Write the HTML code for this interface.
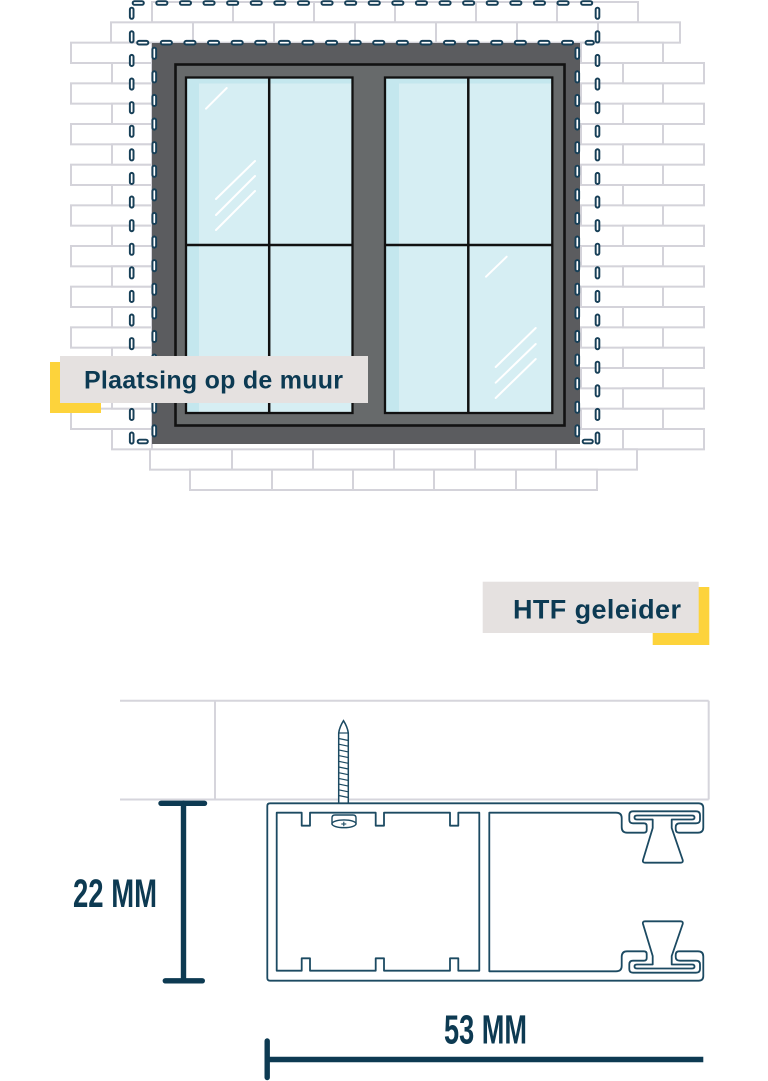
<!DOCTYPE html>
<html>
<head>
<meta charset="utf-8">
<style>
html,body{margin:0;padding:0;background:#fff;}
svg{display:block;}
.b{fill:#fff;stroke:#d4d3da;stroke-width:2;}
.j{stroke:#d4d3da;stroke-width:2;}
.d1{fill:none;stroke:#173f57;stroke-width:5.6;stroke-linecap:round;stroke-dasharray:7.5 16.1;}
.d2{fill:none;stroke:#fff;stroke-width:1.7;stroke-linecap:round;stroke-dasharray:7.5 16.1;}
.g{stroke:#fff;stroke-width:2;stroke-linecap:round;}
.p{fill:none;stroke:#1c4a62;stroke-width:1.8;stroke-linejoin:round;}
.w{stroke:#d6d5dc;stroke-width:2;fill:none;}
.dim{stroke:#0d3a52;stroke-width:5.4;stroke-linecap:round;}
</style>
</head>
<body>
<svg width="768" height="1081" viewBox="0 0 768 1081" xmlns="http://www.w3.org/2000/svg">
<!-- Bricks -->
<g>
<rect class="b" x="152" y="2" width="486" height="20.33"/>
<line class="j" x1="233" y1="2" x2="233" y2="22.33"/><line class="j" x1="314" y1="2" x2="314" y2="22.33"/><line class="j" x1="395" y1="2" x2="395" y2="22.33"/><line class="j" x1="476" y1="2" x2="476" y2="22.33"/><line class="j" x1="557" y1="2" x2="557" y2="22.33"/>
<rect class="b" x="111" y="22.33" width="569" height="20.33"/>
<line class="j" x1="193" y1="22.33" x2="193" y2="42.67"/><line class="j" x1="274" y1="22.33" x2="274" y2="42.67"/><line class="j" x1="355" y1="22.33" x2="355" y2="42.67"/><line class="j" x1="436" y1="22.33" x2="436" y2="42.67"/><line class="j" x1="517" y1="22.33" x2="517" y2="42.67"/><line class="j" x1="598" y1="22.33" x2="598" y2="42.67"/>

<rect class="b" x="71" y="42.67" width="81" height="20.33"/><rect class="b" x="581" y="42.67" width="82" height="20.33"/>
<rect class="b" x="71" y="83.33" width="81" height="20.33"/><rect class="b" x="581" y="83.33" width="82" height="20.33"/>
<rect class="b" x="71" y="124" width="81" height="20.33"/><rect class="b" x="581" y="124" width="82" height="20.33"/>
<rect class="b" x="71" y="164.67" width="81" height="20.33"/><rect class="b" x="581" y="164.67" width="82" height="20.33"/>
<rect class="b" x="71" y="205.33" width="81" height="20.33"/><rect class="b" x="581" y="205.33" width="82" height="20.33"/>
<rect class="b" x="71" y="246" width="81" height="20.33"/><rect class="b" x="581" y="246" width="82" height="20.33"/>
<rect class="b" x="71" y="286.67" width="81" height="20.33"/><rect class="b" x="581" y="286.67" width="82" height="20.33"/>
<rect class="b" x="71" y="327.33" width="81" height="20.33"/><rect class="b" x="581" y="327.33" width="82" height="20.33"/>
<rect class="b" x="71" y="368" width="81" height="20.33"/><rect class="b" x="581" y="368" width="82" height="20.33"/>
<rect class="b" x="71" y="408.67" width="81" height="20.33"/><rect class="b" x="581" y="408.67" width="82" height="20.33"/>
<rect class="b" x="112" y="63" width="40" height="20.33"/><rect class="b" x="623" y="63" width="81" height="20.33"/>
<rect class="b" x="112" y="103.67" width="40" height="20.33"/><rect class="b" x="623" y="103.67" width="81" height="20.33"/>
<rect class="b" x="112" y="144.33" width="40" height="20.33"/><rect class="b" x="623" y="144.33" width="81" height="20.33"/>
<rect class="b" x="112" y="185" width="40" height="20.33"/><rect class="b" x="623" y="185" width="81" height="20.33"/>
<rect class="b" x="112" y="225.67" width="40" height="20.33"/><rect class="b" x="623" y="225.67" width="81" height="20.33"/>
<rect class="b" x="112" y="266.33" width="40" height="20.33"/><rect class="b" x="623" y="266.33" width="81" height="20.33"/>
<rect class="b" x="112" y="307" width="40" height="20.33"/><rect class="b" x="623" y="307" width="81" height="20.33"/>
<rect class="b" x="112" y="347.67" width="40" height="20.33"/><rect class="b" x="623" y="347.67" width="81" height="20.33"/>
<rect class="b" x="112" y="388.33" width="40" height="20.33"/><rect class="b" x="623" y="388.33" width="81" height="20.33"/>
<rect class="b" x="112" y="429" width="40" height="20.33"/><rect class="b" x="623" y="429" width="81" height="20.33"/>

<rect class="b" x="150" y="449.33" width="487" height="20.33"/>
<line class="j" x1="232" y1="449.33" x2="232" y2="469.67"/><line class="j" x1="313" y1="449.33" x2="313" y2="469.67"/><line class="j" x1="394" y1="449.33" x2="394" y2="469.67"/><line class="j" x1="475" y1="449.33" x2="475" y2="469.67"/><line class="j" x1="556" y1="449.33" x2="556" y2="469.67"/>
<rect class="b" x="190" y="469.67" width="407" height="20.33"/>
<line class="j" x1="272" y1="469.67" x2="272" y2="490"/><line class="j" x1="353" y1="469.67" x2="353" y2="490"/><line class="j" x1="434" y1="469.67" x2="434" y2="490"/><line class="j" x1="516" y1="469.67" x2="516" y2="490"/>
</g>

<!-- Window frame -->
<rect x="152" y="43" width="428" height="401" fill="#5b5c5f"/>
<rect x="175.5" y="64.5" width="389" height="361" fill="#676a6b" stroke="#121212" stroke-width="2.6"/>
<rect x="186" y="77.5" width="166.5" height="335.5" fill="#d6eef3"/>
<rect x="186" y="77.5" width="13" height="335.5" fill="#c4e7ee"/>
<rect x="186" y="77.5" width="166.5" height="6" fill="#c4e7ee"/>
<rect x="186" y="77.5" width="166.5" height="335.5" fill="none" stroke="#111" stroke-width="2.3"/>
<line x1="269.2" y1="77.5" x2="269.2" y2="413" stroke="#111" stroke-width="2.5"/>
<line x1="186" y1="245" x2="352.5" y2="245" stroke="#111" stroke-width="2.5"/>
<rect x="385" y="77.5" width="167.3" height="335.5" fill="#d6eef3"/>
<rect x="385" y="77.5" width="14" height="335.5" fill="#c4e7ee"/>
<rect x="385" y="77.5" width="167.3" height="6" fill="#c4e7ee"/>
<rect x="385" y="77.5" width="167.3" height="335.5" fill="none" stroke="#111" stroke-width="2.3"/>
<line x1="468.3" y1="77.5" x2="468.3" y2="413" stroke="#111" stroke-width="2.5"/>
<line x1="385" y1="245" x2="552.3" y2="245" stroke="#111" stroke-width="2.5"/>
<line class="g" x1="226.7" y1="88" x2="206" y2="108.7"/>
<line class="g" x1="255" y1="161" x2="216" y2="199"/>
<line class="g" x1="255" y1="176" x2="216" y2="215"/>
<line class="g" x1="255" y1="191" x2="216" y2="230"/>
<line class="g" x1="506.7" y1="256.7" x2="486" y2="276.7"/>
<line class="g" x1="535.7" y1="328" x2="495.7" y2="367"/>
<line class="g" x1="535.7" y1="344" x2="495.7" y2="382.7"/>
<line class="g" x1="535.7" y1="359" x2="495.7" y2="398"/>

<!-- Dashed outlines -->
<g>
<line class="d1" x1="134.5" y1="3" x2="596" y2="3"/><line class="d2" x1="134.5" y1="3" x2="596" y2="3"/>
<line class="d1" x1="139" y1="42.7" x2="592" y2="42.7"/><line class="d2" x1="139" y1="42.7" x2="592" y2="42.7"/>
<line class="d1" x1="131.7" y1="9.5" x2="131.7" y2="442"/><line class="d2" x1="131.7" y1="9.5" x2="131.7" y2="442"/>
<line class="d1" x1="154.3" y1="49.5" x2="154.3" y2="442"/><line class="d2" x1="154.3" y1="49.5" x2="154.3" y2="442"/>
<line class="d1" x1="597.5" y1="9.5" x2="597.5" y2="442"/><line class="d2" x1="597.5" y1="9.5" x2="597.5" y2="442"/>
<line class="d1" x1="577.3" y1="49.5" x2="577.3" y2="442"/><line class="d2" x1="577.3" y1="49.5" x2="577.3" y2="442"/>
<line x1="139.5" y1="441.5" x2="146" y2="441.5" stroke="#173f57" stroke-width="5.6" stroke-linecap="round"/>
<line x1="139.5" y1="441.5" x2="146" y2="441.5" stroke="#fff" stroke-width="1.7" stroke-linecap="round"/>
<line x1="584.5" y1="441.5" x2="591" y2="441.5" stroke="#173f57" stroke-width="5.6" stroke-linecap="round"/>
<line x1="584.5" y1="441.5" x2="591" y2="441.5" stroke="#fff" stroke-width="1.7" stroke-linecap="round"/>
</g>

<!-- Label 1 -->
<rect x="50" y="362" width="51" height="51" fill="#fdd33b"/>
<rect x="60" y="356" width="308" height="47" fill="#e5e1e0"/>
<text x="84" y="388.5" font-family="'Liberation Sans', Arial, sans-serif" font-weight="bold" font-size="25" fill="#0c3a53" textLength="259">Plaatsing op de muur</text>

<!-- Label 2 -->
<rect x="652.7" y="587" width="56.6" height="58" fill="#fdd33b"/>
<rect x="482.7" y="581.7" width="216" height="51.3" fill="#e5e1e0"/>
<text x="513" y="618.3" font-family="'Liberation Sans', Arial, sans-serif" font-weight="bold" font-size="27" fill="#0c3a53" textLength="168">HTF geleider</text>

<!-- Wall section -->
<line class="w" x1="120" y1="700.7" x2="708.7" y2="700.7"/>
<line class="w" x1="120" y1="799.5" x2="708.7" y2="799.5"/>
<line class="w" x1="708.7" y1="700.7" x2="708.7" y2="799.5"/>
<line class="w" x1="215" y1="700.7" x2="215" y2="799.5"/>

<!-- Screw shaft -->
<g>
<path d="M338.7,803.3 V733 Q339.5,727 343.5,720.7 Q347.5,727 348.3,733 V803.3 Z" fill="#fff" stroke="#1c4a62" stroke-width="1.5"/>
<line x1="338.7" y1="733" x2="348.3" y2="733" stroke="#1c4a62" stroke-width="1.2"/>
<g stroke="#1c4a62" stroke-width="1.2">
<line x1="338.7" y1="738.5" x2="348.3" y2="740.5"/>
<line x1="338.7" y1="744.2" x2="348.3" y2="746.2"/>
<line x1="338.7" y1="749.9" x2="348.3" y2="751.9"/>
<line x1="338.7" y1="755.6" x2="348.3" y2="757.6"/>
<line x1="338.7" y1="761.3" x2="348.3" y2="763.3"/>
<line x1="338.7" y1="767" x2="348.3" y2="769"/>
<line x1="338.7" y1="772.7" x2="348.3" y2="774.7"/>
<line x1="338.7" y1="778.4" x2="348.3" y2="780.4"/>
<line x1="338.7" y1="784.1" x2="348.3" y2="786.1"/>
<line x1="338.7" y1="789.8" x2="348.3" y2="791.8"/>
<line x1="338.7" y1="795.5" x2="348.3" y2="797.5"/>
</g>
</g>

<!-- Profile -->
<g class="p">
<path d="M267.3,892 V806 Q267.3,803.3 270,803.3 H698.6 Q703.3,803.3 703.3,808 V827.4 Q703.3,832.7 698,832.7 H679 Q675.7,832.7 675.7,829 V827 Q675.7,823.3 680,823.3 H696 Q700,823.3 700,819.6 V815 Q700,811.3 696,811.3 H633 Q629.3,811.3 629.3,815 V819.6 Q629.3,823.3 633,823.3 H644 Q646.7,823.3 646.7,826 V830 Q646.7,832.7 644,832.7 H627 Q621.7,832.7 621.7,827 V818 Q621.7,812.7 616,812.7 H489.3 V892"/>
<path d="M267.3,892 V806 Q267.3,803.3 270,803.3 H698.6 Q703.3,803.3 703.3,808 V827.4 Q703.3,832.7 698,832.7 H679 Q675.7,832.7 675.7,829 V827 Q675.7,823.3 680,823.3 H696 Q700,823.3 700,819.6 V815 Q700,811.3 696,811.3 H633 Q629.3,811.3 629.3,815 V819.6 Q629.3,823.3 633,823.3 H644 Q646.7,823.3 646.7,826 V830 Q646.7,832.7 644,832.7 H627 Q621.7,832.7 621.7,827 V818 Q621.7,812.7 616,812.7 H489.3 V892" transform="translate(0,1784) scale(1,-1)"/>
<path d="M276.7,812.7 H301.7 V825.7 H310 V812.7 H375.7 V825.7 H384 V812.7 H450 V825.7 H458.3 V812.7 H479.3 V970.7 H458.3 V958.3 H450 V970.7 H384 V958.3 H375.7 V970.7 H310 V958.3 H301.7 V970.7 H276.7 Z"/>
<path d="M652.7,819.5 H637 Q634.5,819.5 634.5,817.5 Q634.5,815.5 637,815.5 H692 Q694.5,815.5 694.5,817.5 Q694.5,819.5 692,819.5 H671.7 V828 L682.7,860 Q683.3,862.7 680.5,862.7 H645 Q642.3,862.7 643,860 L652.7,828 Z"/>
<path d="M652.7,819.5 H637 Q634.5,819.5 634.5,817.5 Q634.5,815.5 637,815.5 H692 Q694.5,815.5 694.5,817.5 Q694.5,819.5 692,819.5 H671.7 V828 L682.7,860 Q683.3,862.7 680.5,862.7 H645 Q642.3,862.7 643,860 L652.7,828 Z" transform="translate(0,1784) scale(1,-1)"/>
</g>

<!-- Screw head -->
<path d="M332,823.8 V818 Q332,815 335,815 H353 Q356,815 356,818 V823.8 Z" fill="#fff" stroke="#1c4a62" stroke-width="1.4"/>
<ellipse cx="344" cy="823.8" rx="12" ry="3.9" fill="#fff" stroke="#1c4a62" stroke-width="1.4"/>
<line x1="341.3" y1="824" x2="346.3" y2="824" stroke="#1c4a62" stroke-width="1.1"/>
<line x1="343.8" y1="821.7" x2="343.8" y2="826.3" stroke="#1c4a62" stroke-width="1.1"/>

<!-- Dimension 22 MM -->
<line class="dim" x1="183.5" y1="803.3" x2="183.5" y2="980.8" stroke-linecap="butt"/>
<line class="dim" x1="161" y1="803.3" x2="204.5" y2="803.3"/>
<line class="dim" x1="165.3" y1="980.8" x2="202.3" y2="980.8"/>
<text x="73" y="907" font-family="'Liberation Sans', Arial, sans-serif" font-weight="bold" font-size="40" fill="#0d3a52" textLength="84" lengthAdjust="spacingAndGlyphs">22 MM</text>

<!-- Dimension 53 MM -->
<line x1="267.2" y1="1059.5" x2="703.3" y2="1059.5" stroke="#0d3a52" stroke-width="5.5"/>
<line class="dim" x1="267.2" y1="1041" x2="267.2" y2="1077.5"/>
<text x="444" y="1043.5" font-family="'Liberation Sans', Arial, sans-serif" font-weight="bold" font-size="41" fill="#0d3a52" textLength="83" lengthAdjust="spacingAndGlyphs">53 MM</text>
</svg>
</body>
</html>
